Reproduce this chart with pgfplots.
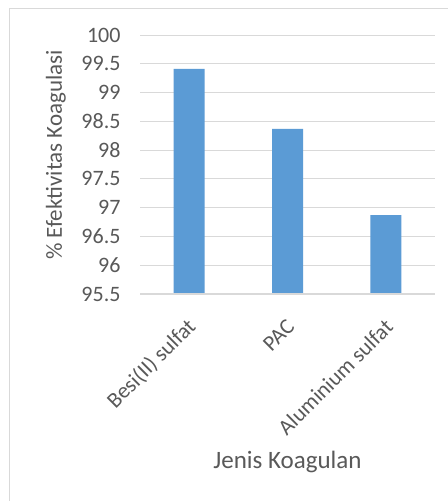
\documentclass[border=0pt]{standalone}
\usepackage{fontspec}
\setmainfont{Carlito}
\usepackage{pgfplots}
\pgfplotsset{compat=1.18}
\definecolor{barblue}{HTML}{5B9BD5}
\definecolor{gridgray}{HTML}{D9D9D9}
\definecolor{txtgray}{HTML}{595959}
\begin{document}
\begin{tikzpicture}
\useasboundingbox (0,0) rectangle (448bp,501bp);
\fill[white] (0,0) rectangle (448bp,501bp);
\draw[gridgray, line width=0.9bp] (9bp,-2bp) -- (9bp,493bp) -- (450bp,493bp);
\begin{axis}[
  at={(140bp,207bp)}, anchor=south west,
  scale only axis, width=295bp, height=259bp,
  xmin=-0.5, xmax=2.5, ymin=95.5, ymax=100,
  ytick={95.5,96,...,100},
  xtick={0,1,2},
  xticklabels={Besi(II) sulfat, PAC, Aluminium sulfat},
  /pgf/number format/assume math mode=true,
  axis line style={draw=none},
  axis x line*=bottom, axis y line*=left,
  major tick length=0pt,
  ymajorgrids, grid style={gridgray, line width=0.9bp},
  yticklabel style={font=\fontsize{22bp}{25bp}\selectfont, text=txtgray, xshift=-16bp},
  xticklabel style={font=\fontsize{22bp}{25bp}\selectfont, text=txtgray, rotate=45, anchor=east, xshift=-15bp, yshift=-23bp},
  xlabel={Jenis Koagulan},
  ylabel={\% Efektivitas Koagulasi},
  xlabel style={font=\fontsize{25bp}{28bp}\selectfont, text=txtgray, at={(rel axis cs:0.5,-0.649)}, anchor=center},
  ylabel style={font=\fontsize{23bp}{27bp}\selectfont, text=txtgray, at={(rel axis cs:-0.285,0.537)}, anchor=center, rotate=0},
  clip=false,
]
\addplot[ybar, bar width=31bp, fill=barblue, draw=none] coordinates {(0,99.41) (1,98.37) (2,96.87)};
\draw[gridgray, line width=1.2bp] (rel axis cs:0,0) -- (rel axis cs:1,0);
\end{axis}
\end{tikzpicture}
\end{document}
